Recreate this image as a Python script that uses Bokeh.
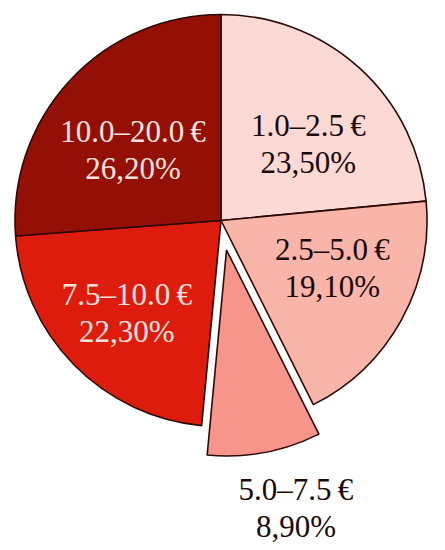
import math
from bokeh.plotting import figure
from bokeh.models import Range1d
from bokeh.core.properties import value
from bokeh.embed import file_html
from bokeh.resources import INLINE

# data
categories = ["1.0\u20132.5\u2009\u20ac", "2.5\u20135.0\u2009\u20ac", "5.0\u20137.5\u2009\u20ac",
              "7.5\u201310.0\u2009\u20ac", "10.0\u201320.0\u2009\u20ac"]
shares = [23.5, 19.1, 8.9, 22.3, 26.2]
pct_labels = ["23,50%", "19,10%", "8,90%", "22,30%", "26,20%"]

# styles
colors = ["#fdd9d5", "#f9b5aa", "#f7958b", "#de1c0e", "#940f05"]
text_colors = ["#1a0a08", "#1a0a08", "#1a0a08", "#fde3df", "#fde3df"]
explode = [0, 0, 30, 0, 0]
label_r = [116, 121, 297, 132, 113]
label_dang = [-6.5, 6.0, 4.0, 0.0, 4.0]

W, H = 445, 550
p = figure(width=W, height=H, output_backend="svg", toolbar_location=None,
           x_range=Range1d(0, W), y_range=Range1d(0, H),
           min_border=0)
p.axis.visible = False
p.grid.visible = False
p.outline_line_color = None
p.background_fill_color = "white"

cx, cy, R = 220.5, 550 - 220, 206
total = sum(shares)
cum = 0.0
for i, s in enumerate(shares):
    a_start = 90 - (cum + s) / total * 360
    a_end = 90 - cum / total * 360
    mid = math.radians((a_start + a_end) / 2)
    ox = cx + explode[i] * math.cos(mid)
    oy = cy + explode[i] * math.sin(mid)
    p.wedge(x=ox, y=oy, radius=R, start_angle=math.radians(a_start), end_angle=math.radians(a_end),
            fill_color=colors[i], line_color="#2b0a06", line_width=1.6)
    la = mid + math.radians(label_dang[i])
    lx = cx + label_r[i] * math.cos(la)
    ly = cy + label_r[i] * math.sin(la)
    p.text(x=[lx], y=[ly + 18.5], text=[categories[i]], text_align="center", text_baseline="middle",
           text_font=value("Liberation Serif"), text_font_size="31px", text_color=text_colors[i])
    p.text(x=[lx], y=[ly - 18.5], text=[pct_labels[i]], text_align="center", text_baseline="middle",
           text_font=value("Liberation Serif"), text_font_size="31px", text_color=text_colors[i])
    cum += s

open("out.html", "w").write(file_html(p, INLINE))
